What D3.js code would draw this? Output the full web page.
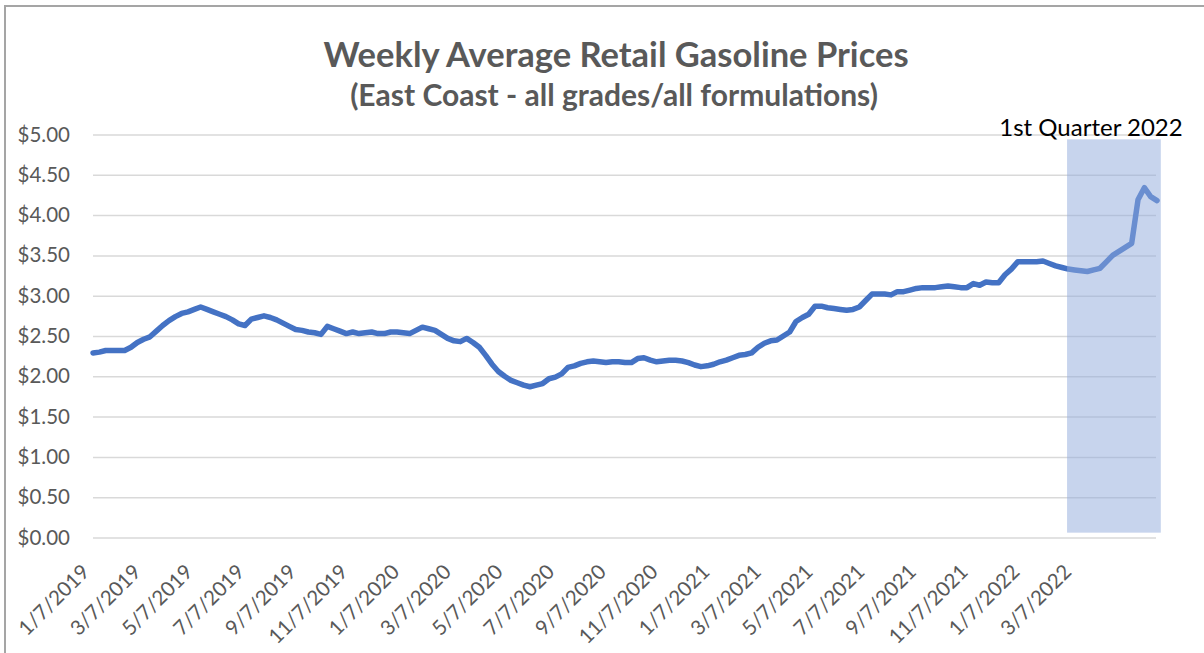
<!DOCTYPE html>
<html>
<head>
<meta charset="utf-8">
<script src="https://cdn.jsdelivr.net/npm/d3@7"></script>
<style>
  body { margin: 0; background: #fff; }
  svg { display: block; font-family: Lato, "Open Sans", sans-serif; }
</style>
</head>
<body>
<div class="chart-container"></div>
<script>
// Weekly prices, one value per Monday starting 1/7/2019
const prices = [
  2.29, 2.30, 2.32, 2.32, 2.32, 2.32, 2.36, 2.42, 2.46, 2.49,
  2.56, 2.63, 2.69, 2.74, 2.78, 2.80, 2.83, 2.86, 2.83, 2.80,
  2.77, 2.74, 2.70, 2.65, 2.63, 2.71, 2.73, 2.75, 2.73, 2.70,
  2.66, 2.62, 2.58, 2.57, 2.55, 2.54, 2.52, 2.62, 2.59, 2.56,
  2.53, 2.55, 2.53, 2.54, 2.55, 2.53, 2.53, 2.55, 2.55, 2.54,
  2.53, 2.57, 2.61, 2.59, 2.57, 2.52, 2.47, 2.44, 2.43, 2.47,
  2.42, 2.36, 2.26, 2.15, 2.06, 2.00, 1.95, 1.92, 1.89, 1.87,
  1.89, 1.91, 1.97, 1.99, 2.03, 2.11, 2.13, 2.16, 2.18, 2.19,
  2.18, 2.17, 2.18, 2.18, 2.17, 2.17, 2.22, 2.23, 2.20, 2.18,
  2.19, 2.20, 2.20, 2.19, 2.17, 2.14, 2.12, 2.13, 2.15, 2.18,
  2.20, 2.23, 2.26, 2.27, 2.29, 2.36, 2.41, 2.44, 2.45, 2.50,
  2.55, 2.68, 2.73, 2.77, 2.87, 2.87, 2.85, 2.84, 2.83, 2.82,
  2.83, 2.86, 2.94, 3.02, 3.02, 3.02, 3.01, 3.05, 3.05, 3.07,
  3.09, 3.10, 3.10, 3.10, 3.11, 3.12, 3.11, 3.10, 3.10, 3.15,
  3.13, 3.17, 3.16, 3.16, 3.26, 3.33, 3.42, 3.42, 3.42, 3.42,
  3.43, 3.40, 3.37, 3.35, 3.33, 3.32, 3.31, 3.30, 3.32, 3.34,
  3.42, 3.50, 3.55, 3.60, 3.65, 4.19, 4.34, 4.23, 4.18
];

const xLabels = [
  '1/7/2019', '3/7/2019', '5/7/2019', '7/7/2019', '9/7/2019', '11/7/2019',
  '1/7/2020', '3/7/2020', '5/7/2020', '7/7/2020', '9/7/2020', '11/7/2020',
  '1/7/2021', '3/7/2021', '5/7/2021', '7/7/2021', '9/7/2021', '11/7/2021',
  '1/7/2022', '3/7/2022'
];

const yTicks = [0, 0.5, 1, 1.5, 2, 2.5, 3, 3.5, 4, 4.5, 5];

// shaded "1st Quarter 2022" box, in week index / dollars
const quarterWeeks = [153.8, 168.6];
const quarterPrices = [0.06, 4.94];

const width = 1204, height = 653;
const plot = { left: 93, right: 1157, top: 134.5, bottom: 537.5 };

const svg = d3.select('.chart-container')
    .append('svg')
    .attr('width', width)
    .attr('height', height);

svg.append('rect').attr('width', width).attr('height', height).attr('fill', '#fff');

// chart frame (only top and left edges show)
svg.append('path')
    .attr('d', `M5,${height} V6 H${width}`)
    .attr('fill', 'none')
    .attr('stroke', '#a5a5a5')
    .attr('stroke-width', 2);

// Titles
svg.append('text')
    .attr('x', 616).attr('y', 67)
    .attr('text-anchor', 'middle')
    .attr('font-size', 34.5).attr('font-weight', 700)
    .attr('fill', '#595959')
    .text('Weekly Average Retail Gasoline Prices');
svg.append('text')
    .attr('x', 614).attr('y', 106)
    .attr('text-anchor', 'middle')
    .attr('font-size', 30).attr('font-weight', 700)
    .attr('fill', '#595959')
    .text('(East Coast - all grades/all formulations)');

// Scales
const x = d3.scaleLinear()
    .domain([0, prices.length - 1])
    .range([plot.left, plot.right]);
const y = d3.scaleLinear()
    .domain([0, 5])
    .range([plot.bottom, plot.top]);

// Y axis with gridlines
const yAxis = svg.append('g')
    .attr('transform', `translate(${plot.left},0)`)
    .call(d3.axisLeft(y)
        .tickValues(yTicks)
        .tickSize(-(plot.right - 1 - plot.left))
        .tickPadding(23)
        .tickFormat(d => '$' + d3.format('.2f')(d)));
yAxis.select('.domain').remove();
yAxis.selectAll('line').attr('stroke', '#d9d9d9').attr('stroke-width', 1.5);
yAxis.selectAll('text')
    .attr('font-size', 20.5)
    .attr('font-family', 'Lato, sans-serif')
    .attr('fill', '#595959');

// X axis labels, evenly spaced every two months
const xl = d3.scalePoint()
    .domain(xLabels)
    .range([85, 1067]);
const xAxis = svg.append('g')
    .attr('transform', 'translate(0,568)')
    .call(d3.axisBottom(xl).tickSize(0));
xAxis.select('.domain').remove();
xAxis.selectAll('text')
    .attr('y', 0)
    .attr('dy', '0.35em')
    .attr('text-anchor', 'end')
    .attr('transform', 'rotate(-45)')
    .attr('font-size', 20.5)
    .attr('font-family', 'Lato, sans-serif')
    .attr('fill', '#595959');

// Price line
svg.append('path')
    .datum(prices)
    .attr('fill', 'none')
    .attr('stroke', '#4472c4')
    .attr('stroke-width', 5.5)
    .attr('stroke-linejoin', 'round')
    .attr('stroke-linecap', 'round')
    .attr('d', d3.line()
        .x((d, i) => x(i))
        .y(d => y(d)));

// Highlight box sits on top of the line
svg.append('rect')
    .attr('x', x(quarterWeeks[0]))
    .attr('y', y(quarterPrices[1]))
    .attr('width', x(quarterWeeks[1]) - x(quarterWeeks[0]))
    .attr('height', y(quarterPrices[0]) - y(quarterPrices[1]))
    .attr('fill', '#8faadc')
    .attr('fill-opacity', 0.5);

svg.append('text')
    .attr('x', 1091).attr('y', 136)
    .attr('text-anchor', 'middle')
    .attr('font-size', 24)
    .attr('fill', '#000')
    .text('1st Quarter 2022');
</script>
</body>
</html>
